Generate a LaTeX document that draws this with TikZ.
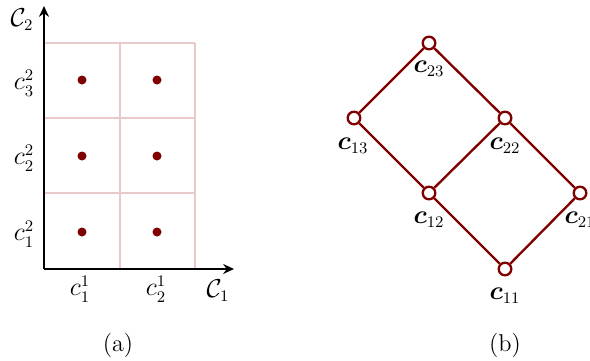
\documentclass[tikz,border=0pt]{standalone}
\usepackage{amsmath,amssymb,bm}
\usetikzlibrary{arrows.meta}
\definecolor{dred}{HTML}{800000}
\definecolor{gridpink}{HTML}{E8CACA}
\begin{document}
\begin{tikzpicture}[x=0.5556pt,y=-0.5556pt,
  gridline/.style={draw=gridpink,line width=1.1pt},
  axis/.style={draw=black,line width=1.2pt,-{Stealth[length=6pt,width=5.5pt]}},
  dot/.style={circle,fill=dred,inner sep=0pt,minimum size=5pt},
  lat/.style={circle,draw=dred,fill=white,line width=1.3pt,inner sep=0pt,minimum size=7pt},
  edge/.style={draw=dred,line width=1.3pt},
  lbl/.style={inner sep=0pt,font=\fontsize{13.5}{16}\selectfont}]
\useasboundingbox (0,0) rectangle (590,360);
% grid
\foreach \x in {120,195} \draw[gridline] (\x,43) -- (\x,269);
\foreach \y in {43,118,193} \draw[gridline] (44,\y) -- (195,\y);
% axes
\coordinate (O) at (44,269);
\coordinate (yend) at (44,6);
\coordinate (xend) at (234,269);
\draw[axis] (O) -- (yend);
\draw[axis] (O) -- (xend);
% dots
\foreach \x [count=\i] in {82,157}
  \foreach \y [count=\j] in {232,156,80}
    \node[dot] (d\i\j) at (\x,\y) {};
% labels
\node[lbl] (C2) at (22,20) {$\mathcal{C}_2$};
\node[lbl] (C1) at (218,291) {$\mathcal{C}_1$};
\node[lbl] (y3) at (24,83) {$c_3^2$};
\node[lbl] (y2) at (24,158) {$c_2^2$};
\node[lbl] (y1) at (24,234) {$c_1^2$};
\node[lbl] (x1) at (80,289) {$c_1^1$};
\node[lbl] (x2) at (156,289) {$c_2^1$};
% lattice
\node[lat] (n23) at (429,43) {};
\node[lat] (n13) at (354,118) {};
\node[lat] (n22) at (505,118) {};
\node[lat] (n12) at (429,193) {};
\node[lat] (n21) at (580,193) {};
\node[lat] (n11) at (505,269) {};
\draw[edge] (n23) -- (n13);
\draw[edge] (n23) -- (n22);
\draw[edge] (n13) -- (n12);
\draw[edge] (n22) -- (n12);
\draw[edge] (n22) -- (n21);
\draw[edge] (n12) -- (n11);
\draw[edge] (n21) -- (n11);
\node[lbl] (l23) at (429,69) {$\bm{c}_{23}$};
\node[lbl] (l13) at (353,146) {$\bm{c}_{13}$};
\node[lbl] (l22) at (505,146) {$\bm{c}_{22}$};
\node[lbl] (l12) at (429,220) {$\bm{c}_{12}$};
\node[lbl] (l21) at (580,220) {$\bm{c}_{21}$};
\node[lbl] (l11) at (505,296) {$\bm{c}_{11}$};
% captions
\node[lbl] (capa) at (118,345) {(a)};
\node[lbl] (capb) at (505,345) {(b)};
\end{tikzpicture}
\end{document}
